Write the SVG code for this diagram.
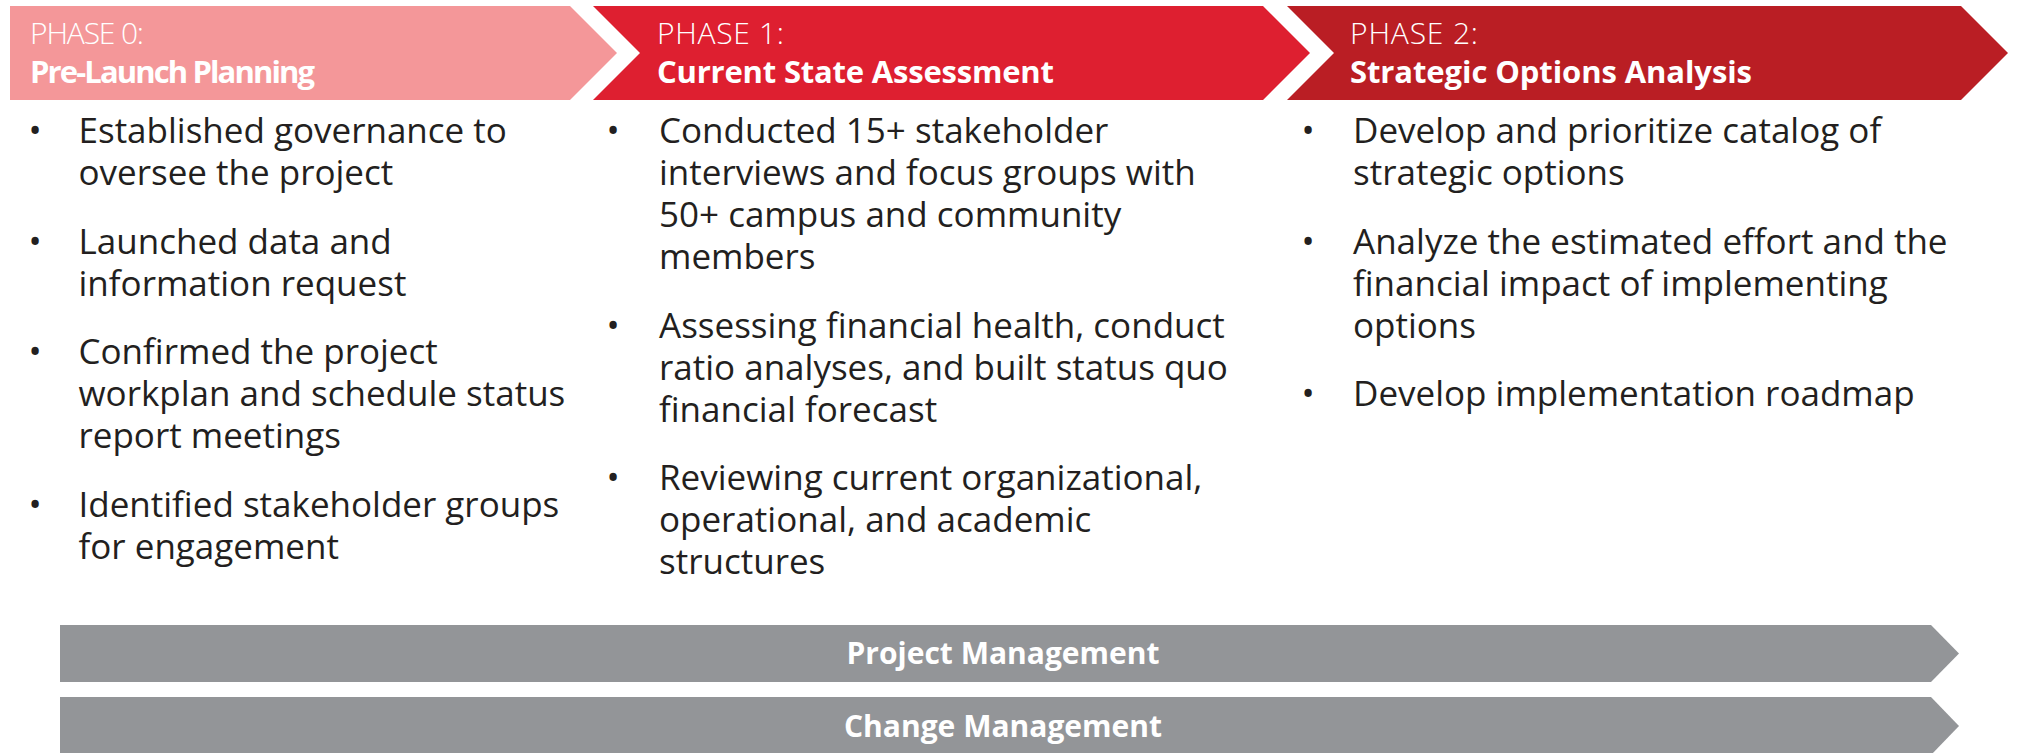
<svg xmlns="http://www.w3.org/2000/svg" width="2019" height="753" viewBox="0 0 2019 753">
<style>
.hl{font-family:"Open Sans","Liberation Sans",sans-serif;font-weight:300;font-size:30px;fill:#fff}
.hb{font-family:"Open Sans","Liberation Sans",sans-serif;font-weight:700;font-size:31px;fill:#fff}
.b{font-family:"Open Sans","Liberation Sans",sans-serif;font-size:35px;fill:#231f20}
.bu{font-family:"Open Sans","Liberation Sans",sans-serif;font-size:35px;fill:#231f20;text-anchor:middle}
.bar{fill:#939598}
.bt{font-family:"Open Sans","Liberation Sans",sans-serif;font-weight:700;font-size:30px;fill:#fff;text-anchor:middle}
</style>
<rect width="2019" height="753" fill="#fff"/>
<g id="phase0">
<polygon points="10,6 570,6 617,53 570,100 10,100" fill="#f49799"/>
<text class="hl" x="30" y="44" textLength="114">PHASE 0:</text>
<text class="hb" x="30" y="83" textLength="285">Pre-Launch Planning</text>
<text class="bu" x="35" y="143.3">•</text>
<text class="b" x="78.5" y="143.3">Established governance to</text>
<text class="b" x="78.5" y="185.3">oversee the project</text>
<text class="bu" x="35" y="253.8">•</text>
<text class="b" x="78.5" y="253.8">Launched data and</text>
<text class="b" x="78.5" y="295.8">information request</text>
<text class="bu" x="35" y="364.3">•</text>
<text class="b" x="78.5" y="364.3">Confirmed the project</text>
<text class="b" x="78.5" y="406.3">workplan and schedule status</text>
<text class="b" x="78.5" y="448.3">report meetings</text>
<text class="bu" x="35" y="516.8">•</text>
<text class="b" x="78.5" y="516.8">Identified stakeholder groups</text>
<text class="b" x="78.5" y="558.8">for engagement</text>
</g>
<g id="phase1">
<polygon points="593,6 1263,6 1310,53 1263,100 593,100 640,53" fill="#de1f30"/>
<text class="hl" x="657" y="44" textLength="127">PHASE 1:</text>
<text class="hb" x="657" y="83" textLength="397">Current State Assessment</text>
<text class="bu" x="613" y="143.3">•</text>
<text class="b" x="659" y="143.3">Conducted 15+ stakeholder</text>
<text class="b" x="659" y="185.3">interviews and focus groups with</text>
<text class="b" x="659" y="227.3">50+ campus and community</text>
<text class="b" x="659" y="269.3">members</text>
<text class="bu" x="613" y="337.8">•</text>
<text class="b" x="659" y="337.8">Assessing financial health, conduct</text>
<text class="b" x="659" y="379.8">ratio analyses, and built status quo</text>
<text class="b" x="659" y="421.8">financial forecast</text>
<text class="bu" x="613" y="490.3">•</text>
<text class="b" x="659" y="490.3">Reviewing current organizational,</text>
<text class="b" x="659" y="532.3">operational, and academic</text>
<text class="b" x="659" y="574.3">structures</text>
</g>
<g id="phase2">
<polygon points="1287,6 1961,6 2008,53 1961,100 1287,100 1334,53" fill="#ba1e24"/>
<text class="hl" x="1350" y="44" textLength="128">PHASE 2:</text>
<text class="hb" x="1350" y="83" textLength="402">Strategic Options Analysis</text>
<text class="bu" x="1308" y="143.3">•</text>
<text class="b" x="1353" y="143.3">Develop and prioritize catalog of</text>
<text class="b" x="1353" y="185.3">strategic options</text>
<text class="bu" x="1308" y="253.8">•</text>
<text class="b" x="1353" y="253.8">Analyze the estimated effort and the</text>
<text class="b" x="1353" y="295.8">financial impact of implementing</text>
<text class="b" x="1353" y="337.8">options</text>
<text class="bu" x="1308" y="406.3">•</text>
<text class="b" x="1353" y="406.3">Develop implementation roadmap</text>
</g>
<g id="project-management">
<polygon class="bar" points="60,625 1931,625 1959,653.5 1931,682 60,682"/>
<text class="bt" x="1003" y="664">Project Management</text>
</g>
<g id="change-management">
<polygon class="bar" points="60,697 1931,697 1959,726 1931,755 60,755"/>
<text class="bt" x="1003" y="737">Change Management</text>
</g>
<g id="connectors"></g>
</svg>
